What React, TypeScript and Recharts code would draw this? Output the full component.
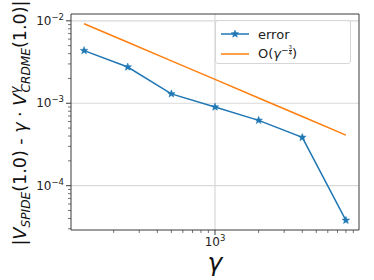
import { LineChart, Line, XAxis, YAxis, ReferenceLine, Legend, Label } from "recharts";

const GAMMAS = [125, 250, 500, 1000, 2000, 4000, 8000];
const ERROR_VALUES = [4.35e-3, 2.75e-3, 1.3e-3, 9.0e-4, 6.2e-4, 3.85e-4, 3.8e-5];
const RATE_VALUES = [9.2e-3, 5.5e-3, 3.27e-3, 1.95e-3, 1.16e-3, 6.9e-4, 4.1e-4];

const X_TICKS = [200, 300, 400, 500, 600, 700, 800, 900, 1000, 2000, 3000, 4000, 5000, 6000, 7000, 8000, 9000];
const Y_TICKS = [
  3e-5, 4e-5, 5e-5, 6e-5, 7e-5, 8e-5, 9e-5, 1e-4,
  2e-4, 3e-4, 4e-4, 5e-4, 6e-4, 7e-4, 8e-4, 9e-4, 1e-3,
  2e-3, 3e-3, 4e-3, 5e-3, 6e-3, 7e-3, 8e-3, 9e-3, 1e-2,
];
const X_GRID = [1000];
const Y_GRID = [1e-4, 1e-3, 1e-2];

const X_DOMAIN = [101.5, 9850];
const Y_DOMAIN = [2.9e-5, 1.21e-2];

const BLUE = "#1f77b4";
const ORANGE = "#ff7f0e";
const AXIS = "#3a3a3a";
const FONT = "'DejaVu Sans', sans-serif";

const data = GAMMAS.map((g, i) => ({ g, err: ERROR_VALUES[i], rate: RATE_VALUES[i] }));

const exponent = (v: number) => Math.round(Math.log10(v));
const isMajor = (v: number) => Math.abs(Math.log10(v) - exponent(v)) < 1e-6;

function XTick(props: any) {
  const { x, y, payload } = props;
  const v = payload.value;
  const major = isMajor(v);
  return (
    <g>
      <line x1={x} x2={x} y1={y} y2={y + (major ? 5 : 3)} stroke={AXIS} strokeWidth={major ? 1 : 0.7} />
      {major && (
        <text x={x} y={y + 16} textAnchor="middle" fontFamily={FONT} fontSize={12} fill="#222">
          10
          <tspan dy={-5} fontSize={8.5}>{exponent(v)}</tspan>
        </text>
      )}
    </g>
  );
}

function YTick(props: any) {
  const { x, y, payload } = props;
  const v = payload.value;
  const major = isMajor(v);
  const e = exponent(v);
  return (
    <g>
      <line x1={x - (major ? 5 : 3)} x2={x} y1={y} y2={y} stroke={AXIS} strokeWidth={major ? 1 : 0.7} />
      {major && (
        <text x={x - 7} y={y + 4} textAnchor="end" fontFamily={FONT} fontSize={12} fill="#222">
          10
          <tspan dy={-5} fontSize={8.5}>{e < 0 ? "\u2212" + Math.abs(e) : e}</tspan>
        </text>
      )}
    </g>
  );
}

function Star(props: any) {
  const { cx, cy, fill } = props;
  if (cx == null || cy == null) return null;
  const pts: string[] = [];
  for (let k = 0; k < 10; k++) {
    const r = k % 2 === 0 ? 4 : 1.7;
    const a = -Math.PI / 2 + (k * Math.PI) / 5;
    pts.push(`${cx + r * Math.cos(a)},${cy + r * Math.sin(a)}`);
  }
  return <polygon points={pts.join(" ")} fill={fill || BLUE} stroke={fill || BLUE} strokeWidth={0.5} />;
}

function YLabel(props: any) {
  const { viewBox } = props;
  const cy = viewBox.y + viewBox.height / 2 + 1;
  return (
    <text
      transform={`translate(26, ${cy}) rotate(-90)`}
      textAnchor="middle"
      fontFamily={FONT}
      fontSize={17.5}
      fill="#111"
    >
      |<tspan fontStyle="italic">V</tspan>
      <tspan dy={4} fontSize={12.2} fontStyle="italic">SPIDE</tspan>
      <tspan dy={-4}>(1.0) - </tspan>
      <tspan fontStyle="italic">γ</tspan>
      <tspan> · </tspan>
      <tspan fontStyle="italic">V</tspan>
      <tspan dy={-7} fontSize={12.2} fontStyle="italic">γ</tspan>
      <tspan dy={11} dx={-6} fontSize={12.2} fontStyle="italic">CRDME</tspan>
      <tspan dy={-4}>(1.0)|</tspan>
    </text>
  );
}

function XLabel(props: any) {
  const { viewBox } = props;
  return (
    <text
      x={viewBox.x + viewBox.width / 2}
      y={viewBox.y + 41}
      textAnchor="middle"
      fontFamily={FONT}
      fontSize={25}
      fontStyle="italic"
      fill="#111"
    >
      γ
    </text>
  );
}

function LegendBox() {
  return (
    <div
      style={{
        width: 136,
        height: 44,
        border: "1px solid #d6d6d6",
        borderRadius: 3,
        background: "rgba(255,255,255,0.85)",
        fontFamily: FONT,
        fontSize: 13,
        color: "#222",
        boxSizing: "border-box",
        paddingTop: 3,
      }}
    >
      <div style={{ display: "flex", alignItems: "center", height: 20 }}>
        <svg width={38} height={12} style={{ marginLeft: 4 }}>
          <line x1={1} x2={29} y1={6} y2={6} stroke={BLUE} strokeWidth={1.5} />
          <Star cx={15} cy={6} fill={BLUE} />
        </svg>
        <span>error</span>
      </div>
      <div style={{ display: "flex", alignItems: "center", height: 20 }}>
        <svg width={38} height={12} style={{ marginLeft: 4 }}>
          <line x1={1} x2={29} y1={6} y2={6} stroke={ORANGE} strokeWidth={1.5} />
        </svg>
        <span>
          O(<i>γ</i>
          <span style={{ position: "relative", top: -5, fontSize: 9 }}>
            −
            <span style={{ display: "inline-flex", flexDirection: "column", fontSize: 5.5, lineHeight: "5.5px", verticalAlign: "middle", textAlign: "center" }}>
              <span>3</span>
              <span style={{ borderTop: "0.6px solid #222" }}>4</span>
            </span>
          </span>
          )
        </span>
      </div>
    </div>
  );
}

export default function App() {
  return (
    <div style={{ position: "absolute", left: 0, top: 0, width: 374, height: 280, background: "#fff" }}>
      <LineChart width={374} height={280} data={data} margin={{ top: 14, right: 15, bottom: 0, left: 0 }}>
        <XAxis
          dataKey="g"
          type="number"
          scale="log"
          domain={X_DOMAIN}
          allowDataOverflow
          ticks={X_TICKS}
          interval={0}
          tickSize={0}
          tickMargin={0}
          tick={<XTick />}
          height={50}
          stroke={AXIS}
        >
          <Label content={<XLabel />} />
        </XAxis>
        <YAxis
          type="number"
          scale="log"
          domain={Y_DOMAIN}
          allowDataOverflow
          ticks={Y_TICKS}
          interval={0}
          tickSize={0}
          tickMargin={0}
          tick={<YTick />}
          width={71}
          stroke={AXIS}
        >
          <Label content={<YLabel />} />
        </YAxis>
        {X_GRID.map((v) => (
          <ReferenceLine key={`gx${v}`} x={v} stroke="#cfcfcf" strokeWidth={1} />
        ))}
        {Y_GRID.map((v) => (
          <ReferenceLine key={`gy${v}`} y={v} stroke="#d9d9d9" strokeWidth={1.2} />
        ))}
        <ReferenceLine y={Y_DOMAIN[1]} stroke={AXIS} strokeWidth={1} />
        <ReferenceLine x={X_DOMAIN[1]} stroke={AXIS} strokeWidth={1} />
        <Legend
          layout="horizontal"
          verticalAlign="middle"
          align="center"
          content={<LegendBox />}
          wrapperStyle={{ position: "absolute", left: 215, top: 20, width: 136, height: 44 }}
        />
        <Line
          dataKey="err"
          stroke={BLUE}
          strokeWidth={1.5}
          dot={<Star fill={BLUE} />}
          activeDot={false}
          isAnimationActive={false}
        />
        <Line
          dataKey="rate"
          stroke={ORANGE}
          strokeWidth={1.5}
          dot={false}
          activeDot={false}
          isAnimationActive={false}
        />
      </LineChart>
    </div>
  );
}
